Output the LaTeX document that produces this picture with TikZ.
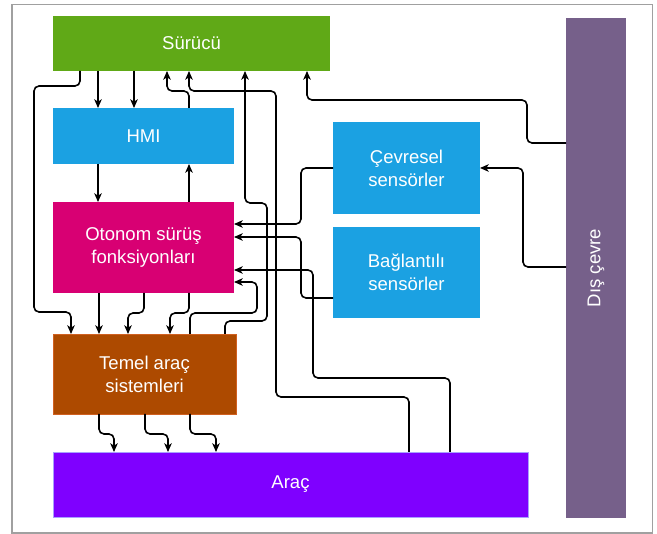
\documentclass[tikz,border=0pt]{standalone}
\usepackage{fontspec}
\setmainfont{Liberation Sans}
\usetikzlibrary{arrows.meta,calc}
\definecolor{cgreen}{HTML}{60A917}
\definecolor{cblue}{HTML}{1BA1E2}
\definecolor{cmag}{HTML}{D80073}
\definecolor{cbrown}{HTML}{AD4A00}
\definecolor{cbrownb}{HTML}{D06020}
\definecolor{cviolet}{HTML}{7F00FF}
\definecolor{cvioletb}{HTML}{A9A0FF}
\definecolor{cmauve}{HTML}{76608A}
\definecolor{cframe}{HTML}{A0A0A0}
\begin{document}
\begin{tikzpicture}[x=0.75pt,y=-0.75pt,
  box/.style={rectangle, draw=none, text=white, align=center, outer sep=0pt, inner sep=0pt,
    font=\fontsize{13.9}{17.25}\selectfont},
  conn/.style={line width=1.2pt, rounded corners=3.75pt,
    -{Stealth[length=6.5pt,width=5.6pt,inset=1.8pt]}},
  plain/.style={line width=1.2pt, rounded corners=3.75pt}]
\useasboundingbox (0,0) rectangle (657,534);
\draw[cframe, line width=0.8pt] (12,4.5) rectangle (652.5,533);

\node[box, fill=cgreen, minimum width=207.75pt, minimum height=41.25pt] (sur) at (191.5,43.5) {Sürücü};
\node[box, fill=cblue, minimum width=135.75pt, minimum height=42pt] (hmi) at (143.5,136) {HMI};
\node[box, fill=cmag, minimum width=135.75pt, minimum height=68.25pt] (oto) at (143.5,247.5) {Otonom sürüş\\fonksiyonları};
\node[box, fill=cbrown, draw=cbrownb, line width=0.5pt, minimum width=137.25pt, minimum height=60pt] (tem) at (144.5,374) {Temel araç\\sistemleri};
\node[box, fill=cviolet, draw=cvioletb, line width=0.5pt, minimum width=356.25pt, minimum height=48.75pt] (ara) at (290.5,484.5) {Araç};
\node[box, fill=cmauve, minimum width=45pt, minimum height=375pt] (dis) at (596,268) {};
\node[box, rotate=90] (distext) at (dis.center) {Dış çevre};
\node[box, fill=cblue, minimum width=110.25pt, minimum height=69pt] (cev) at (406.5,168) {Çevresel\\sensörler};
\node[box, fill=cblue, minimum width=110.25pt, minimum height=68.25pt] (bag) at (406.5,272.5) {Bağlantılı\\sensörler};

% Sürücü -> Temel (long left route)
\draw[conn] ($(sur.south west)+(27,0)$) -- (80,86) -- (34,86) -- (34,312) -- (71,312) -- ($(tem.north west)+(18,0)$);
% Sürücü -> HMI
\draw[conn] ($(sur.south west)+(45,0)$) -- ($(hmi.north west)+(45,0)$);
\draw[conn] ($(sur.south west)+(81,0)$) -- ($(hmi.north west)+(81,0)$);
% HMI -> Sürücü
\draw[conn] ($(hmi.north west)+(136,0)$) -- (189,91) -- (167,91) -- ($(sur.south west)+(114,0)$);
% Araç -> Sürücü
\draw[conn] ($(ara.north west)+(356,0)$) -- (409,397) -- (276,397) -- (276,91) -- (189,91) -- ($(sur.south west)+(136,0)$);
% Temel -> Sürücü
\draw[conn] ($(tem.north west)+(172,0)$) -- (225,321) -- (267,321) -- (267,203) -- (245,203) -- ($(sur.south west)+(192,0)$);
% Dış çevre -> Sürücü
\draw[conn] ($(dis.north west)+(0,125)$) -- (527,143) -- (527,100) -- (307,100) -- ($(sur.south west)+(254,0)$);
% Dış çevre -> Çevresel
\draw[conn] ($(dis.north west)+(0,249)$) -- (523,267) -- (523,168) -- (cev.east);
% Çevresel -> Otonom
\draw[conn] (cev.west) -- (301,168) -- (301,224) -- ($(oto.north east)+(0,22)$);
% Bağlantılı -> Otonom
\draw[conn] ($(bag.south west)+(0,-20)$) -- (301,298) -- (301,237) -- ($(oto.north east)+(0,35)$);
% Araç -> Otonom
\draw[conn] ($(ara.north west)+(397,0)$) -- (450,378) -- (313,378) -- (313,270) -- ($(oto.north east)+(0,68)$);
% Temel -> Otonom
\draw[conn] ($(tem.north west)+(137,0)$) -- (190,313) -- (257,313) -- (257,282) -- ($(oto.north east)+(0,80)$);
% HMI <-> Otonom
\draw[conn] ($(hmi.south west)+(45,0)$) -- ($(oto.north west)+(45,0)$);
\draw[conn] ($(oto.north west)+(136,0)$) -- ($(hmi.south west)+(136,0)$);
% Otonom -> Temel
\draw[conn] ($(oto.south west)+(46,0)$) -- ($(tem.north west)+(46,0)$);
\draw[conn] ($(oto.south west)+(91,0)$) -- (144,313) -- (128,313) -- ($(tem.north west)+(75,0)$);
\draw[conn] ($(oto.south west)+(136,0)$) -- (189,313) -- (170,313) -- ($(tem.north west)+(117,0)$);
% Temel -> Araç
\draw[conn] ($(tem.south west)+(46,0)$) -- (99,434) -- (114,434) -- ($(ara.north west)+(61,0)$);
\draw[conn] ($(tem.south west)+(92,0)$) -- (145,434) -- (168,434) -- ($(ara.north west)+(115,0)$);
\draw[conn] ($(tem.south west)+(137,0)$) -- (190,434) -- (216,434) -- ($(ara.north west)+(163,0)$);
\end{tikzpicture}
\end{document}
